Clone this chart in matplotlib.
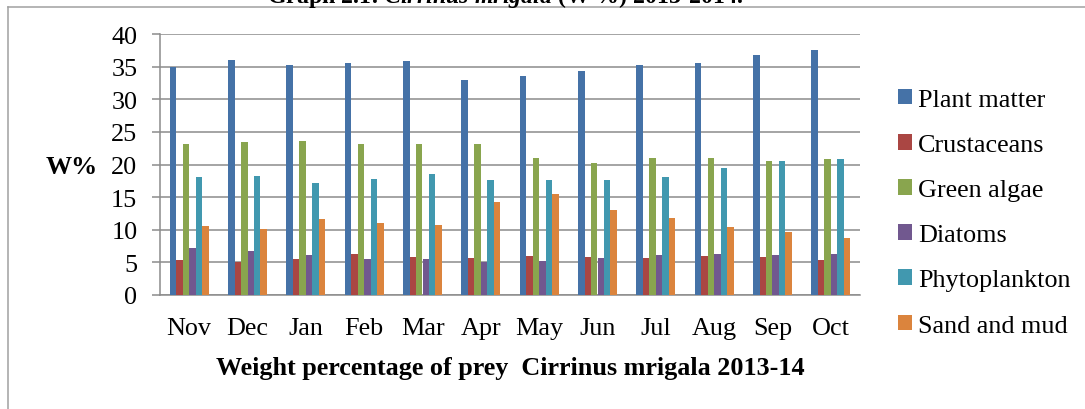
import matplotlib
matplotlib.use("Agg")
import matplotlib.pyplot as plt
import numpy as np
from matplotlib.lines import Line2D
from matplotlib.patches import Patch

months = ["Nov", "Dec", "Jan", "Feb", "Mar", "Apr", "May", "Jun", "Jul", "Aug", "Sep", "Oct"]
series_names = ["Plant matter", "Crustaceans", "Green algae", "Diatoms", "Phytoplankton", "Sand and mud"]
plant_matter = [35.0, 36.0, 35.2, 35.5, 35.8, 33.0, 33.6, 34.3, 35.2, 35.5, 36.8, 37.5]
crustaceans = [5.4, 5.1, 5.5, 6.3, 5.9, 5.7, 6.0, 5.9, 5.6, 6.0, 5.9, 5.4]
green_algae = [23.1, 23.4, 23.6, 23.2, 23.1, 23.1, 21.0, 20.2, 21.0, 21.05, 20.6, 20.8]
diatoms = [7.15, 6.8, 6.2, 5.5, 5.45, 5.0, 5.2, 5.7, 6.1, 6.3, 6.2, 6.3]
phytoplankton = [18.1, 18.2, 17.1, 17.8, 18.5, 17.6, 17.6, 17.7, 18.1, 19.5, 20.6, 20.8]
sand_and_mud = [10.6, 10.1, 11.6, 11.0, 10.7, 14.25, 15.5, 13.0, 11.8, 10.4, 9.6, 8.7]
yticks = [0, 5, 10, 15, 20, 25, 30, 35, 40]

series = [plant_matter, crustaceans, green_algae, diatoms, phytoplankton, sand_and_mud]
colors = ["#4572A7", "#AA4643", "#89A54E", "#71588F", "#4198AF", "#DB843D"]

plt.rcParams["font.family"] = ["Liberation Serif", "DejaVu Serif"]
plt.rcParams["mathtext.fontset"] = "custom"
plt.rcParams["mathtext.it"] = "Liberation Serif:italic:bold"
plt.rcParams["mathtext.rm"] = "Liberation Serif:bold"

FS = 18.8
W, H = 1085, 410
fig = plt.figure(figsize=(W / 100, H / 100), dpi=100)
ax = fig.add_axes([160 / W, (H - 296) / H, 700 / W, (296 - 35) / H])

x = np.arange(len(months))
bw = 1 / 9
for i, (vals, c) in enumerate(zip(series, colors)):
    ax.bar(x + (i - 2.5) * bw, vals, width=bw, color=c, zorder=3, linewidth=0)

ax.set_xlim(-0.5, len(months) - 0.5)
ax.set_ylim(0, 40)
ax.set_yticks(yticks)
ax.set_xticks(x)
ax.set_xticklabels(months)
gridc = "#8c8c8c"
ax.yaxis.grid(True, color=gridc, linewidth=1.1, zorder=0)
ax.set_axisbelow(True)
for s in ["top", "right"]:
    ax.spines[s].set_visible(False)
for s in ["left", "bottom"]:
    ax.spines[s].set_color(gridc)
    ax.spines[s].set_linewidth(1.1)
ax.tick_params(axis="y", direction="out", length=5.8, width=1.1, color=gridc, pad=10.5, labelsize=FS)
ax.tick_params(axis="x", length=0, pad=16, labelsize=FS)

ax.set_xlabel("Weight percentage of prey  Cirrinus mrigala 2013-14", fontsize=FS, fontweight="bold", labelpad=12)
fig.text(72 / W, 1 - 168 / H, "W%", fontsize=FS, fontweight="bold", ha="center", va="center")

handles = [Patch(facecolor=c, edgecolor="none") for c in colors]
fig.legend(handles, series_names, loc="upper left", bbox_to_anchor=(898 / W, 1 - 90 / H),
           frameon=False, fontsize=FS, handlelength=0.53, handleheight=0.53,
           handletextpad=0.25, labelspacing=0.885, borderpad=0, borderaxespad=0)

fig.text(505 / W, 1 - 3 / H, r"Graph 2.1: $Cirrinus\ mrigala$ (W %) 2013-2014.",
         fontsize=17.2, fontweight="bold", ha="center", va="baseline")

bc = "#a0a0a0"
fig.add_artist(Line2D([8 / W, 8 / W], [0, 1 - 8 / H], transform=fig.transFigure, color=bc, lw=1.1))
fig.add_artist(Line2D([8 / W, 1], [1 - 8 / H, 1 - 8 / H], transform=fig.transFigure, color=bc, lw=1.1))

fig.savefig("out.png", dpi=100)
